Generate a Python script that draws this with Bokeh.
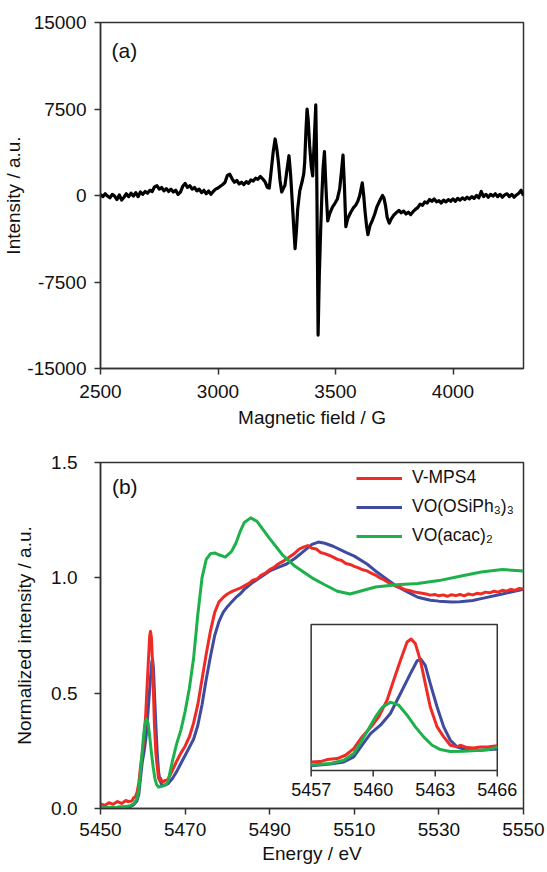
from bokeh.plotting import figure
from bokeh.layouts import column
from bokeh.models import Range1d, FixedTicker, Label, Legend, LegendItem
from bokeh.core.properties import value
from bokeh.embed import file_html
from bokeh.resources import INLINE

# ---------------- data: (a) EPR spectrum ----------------
epr_field = [2500, 2510, 2520, 2530, 2540, 2550, 2560, 2570, 2580, 2590, 2600, 2610, 2620, 2630, 2640,
             2650, 2660, 2670, 2680, 2690, 2700, 2710, 2720, 2730, 2740, 2750, 2760, 2770, 2780, 2790,
             2800, 2810, 2820, 2830, 2840, 2850, 2860, 2870, 2880, 2890, 2900, 2910, 2920, 2930, 2940,
             2950, 2960, 2970, 2980, 2990, 3000, 3010, 3020, 3030, 3040, 3050, 3060, 3070, 3080, 3090,
             3100, 3110, 3120, 3130, 3140, 3150, 3160, 3170, 3180, 3190, 3200,
             3210, 3218, 3224, 3235, 3243, 3250, 3257, 3264, 3271, 3278, 3285, 3294, 3302, 3309, 3317,
             3323, 3328, 3334, 3339, 3348, 3359, 3365, 3369, 3374, 3379, 3384, 3390, 3397, 3403, 3409,
             3416, 3419, 3421, 3426, 3431, 3437, 3442, 3447, 3453, 3457, 3461, 3467, 3475, 3487, 3497,
             3508, 3518, 3525, 3532, 3538, 3544, 3552, 3565, 3575, 3586, 3595, 3603, 3609, 3614, 3620,
             3626, 3632, 3638, 3647, 3657, 3667, 3676, 3685, 3692, 3700, 3706, 3713, 3720, 3729, 3738,
             3748, 3758,
             3770, 3780, 3790, 3800, 3810, 3820, 3830, 3840, 3850, 3860, 3870, 3880, 3890, 3900, 3910,
             3920, 3930, 3940, 3950, 3960, 3970, 3980, 3990, 4000, 4010, 4020, 4030, 4040, 4050, 4060,
             4070, 4080, 4090, 4100, 4110, 4120, 4130, 4140, 4150, 4160, 4170, 4180, 4190, 4200, 4210,
             4220, 4230, 4240, 4250, 4260, 4270, 4280, 4290, 4300]
epr_intensity = [100, -100, 150, -50, -200, 100, -50, -350, 50, -400, -150, 150, -100, 200, -50,
                 250, -100, 300, 100, 350, 200, 450, 350, 750, 850, 550, 700, 400, 600, 350,
                 550, 300, 450, 100, 300, 800, 1050, 700, 850, 550, 700, 400, 550, 250, 450,
                 150, 400, 100, 350, 550, 650, 800, 950, 1150, 1750, 1850, 1450, 1150, 1300, 1000,
                 1150, 950, 1200, 1050, 1350, 1250, 1500, 1400, 1650, 1450, 1200,
                 700, 650, 1700, 3800, 4900, 4100, 2900, 1300, 300, 600, 900, 2300, 3450, 1800, -900,
                 -3000, -4600, -3000, -1200, 400, 1300, 1900, 2900, 5500, 7500, 6500, 4300, 2500, 1700, 4500,
                 7850, 4000, 0, -12100, -7000, -2900, 0, 2300, 3800, 1800, 0, -2200, -1600, -1000, -700,
                 -300, 600, 2000, 3500, 800, -2700, -2000, -1450, -1100, -850, -500, 0, 600, 1100, 0,
                 -1450, -2600, -3400, -2600, -2150, -1600, -1000, -600, -300, 0, -200, -900, -1900, -2400, -2000,
                 -1700, -1500,
                 -1300, -1500, -1350, -1600, -1450, -1650, -1400, -1200, -1050, -750, -850, -550, -650, -350, -500,
                 -300, -550, -450, -650, -400, -550, -350, -500, -300, -500, -250, -400, -200, -350, -150,
                 -300, -100, -250, 0, -200, 350, -100, 100, -150, 100, -50, 150, -100, 100, -150,
                 50, 150, -100, 100, -150, 50, 200, 450, 0]
epr_xticks = [2500, 3000, 3500, 4000]
epr_yticks = [-15000, -7500, 0, 7500, 15000]
epr_ytick_labels = ["-15000", "-7500", "0", "7500", "15000"]

# ---------------- data: (b) V K-edge XANES ----------------
mps4_energy = [5450, 5451, 5452, 5453, 5454, 5455, 5456, 5456.5, 5457.0, 5457.45, 5457.77, 5458.26,
               5458.66, 5459.06, 5459.46, 5459.87, 5460.27, 5460.67, 5460.99, 5461.32, 5461.64, 5461.83,
               5462.04, 5462.28, 5462.52, 5462.76, 5463.09, 5463.41, 5463.73, 5464.05, 5464.21, 5464.54,
               5464.86, 5465.18, 5465.6, 5466, 5467, 5468, 5469, 5470, 5471, 5472, 5473, 5474, 5475,
               5476, 5477, 5478, 5479, 5480, 5481, 5482, 5483, 5484, 5485, 5486, 5487, 5488, 5489, 5490,
               5491, 5492, 5493, 5494, 5495, 5496, 5497, 5498, 5499, 5500, 5501, 5502, 5503, 5504, 5505,
               5506, 5507, 5508, 5509, 5510, 5511, 5512, 5513, 5514, 5515, 5516, 5517, 5518, 5519, 5520,
               5521, 5522, 5523, 5524, 5525, 5526, 5527, 5528, 5529, 5530, 5531, 5532, 5533, 5534, 5535,
               5536, 5537, 5538, 5539, 5540, 5541, 5542, 5543, 5544, 5545, 5546, 5547, 5548, 5549, 5550]
mps4_mu = [0.020, 0.013, 0.025, 0.018, 0.030, 0.022, 0.035, 0.030, 0.031, 0.033, 0.045, 0.051,
           0.071, 0.111, 0.181, 0.237, 0.301, 0.401, 0.520, 0.640, 0.750, 0.768,
           0.740, 0.640, 0.500, 0.360, 0.241, 0.181, 0.131, 0.121, 0.131, 0.117,
           0.115, 0.121, 0.122, 0.128, 0.165, 0.205, 0.240, 0.270, 0.310, 0.370, 0.450, 0.560, 0.670,
           0.770, 0.850, 0.895, 0.915, 0.930, 0.940, 0.948, 0.955, 0.965, 0.975, 0.990, 0.995, 1.012, 1.020, 1.036,
           1.045, 1.060, 1.070, 1.082, 1.095, 1.108, 1.125, 1.133, 1.140, 1.128, 1.125, 1.110, 1.105, 1.098, 1.090,
           1.080, 1.075, 1.062, 1.058, 1.050, 1.043, 1.035, 1.030, 1.020, 1.012, 1.000, 0.992, 0.980, 0.972, 0.962,
           0.958, 0.948, 0.945, 0.940, 0.936, 0.933, 0.930, 0.925, 0.928, 0.922, 0.926, 0.920, 0.927, 0.923, 0.928,
           0.922, 0.930, 0.926, 0.933, 0.930, 0.938, 0.935, 0.942, 0.938, 0.946, 0.942, 0.950, 0.946, 0.954, 0.952]

siph_energy = [5450, 5452, 5454, 5455, 5456, 5457.0, 5457.93, 5458.58, 5459.06, 5459.46, 5459.87, 5460.35,
               5460.83, 5461.32, 5461.80, 5462.12, 5462.31, 5462.52, 5462.76, 5463.09, 5463.41, 5463.73,
               5464.05, 5464.54, 5465.18, 5466, 5467, 5468, 5469, 5470, 5471, 5472, 5473, 5474, 5475, 5476,
               5477, 5478, 5479, 5480, 5481, 5482, 5483, 5484, 5486, 5488, 5490, 5492, 5494, 5496, 5498,
               5500, 5501.5, 5503, 5505, 5508, 5510, 5513, 5515, 5518, 5520, 5523, 5525, 5528, 5530, 5533,
               5535, 5538, 5540, 5545, 5550]
siph_mu = [0.003, 0.004, 0.005, 0.006, 0.007, 0.008, 0.018, 0.031, 0.061, 0.131, 0.201, 0.251,
           0.321, 0.441, 0.560, 0.636, 0.646, 0.610, 0.500, 0.360, 0.241, 0.161,
           0.121, 0.101, 0.101, 0.108, 0.130, 0.160, 0.195, 0.230, 0.265, 0.300, 0.360, 0.450, 0.560, 0.660,
           0.750, 0.810, 0.850, 0.875, 0.895, 0.915, 0.930, 0.950, 0.980, 1.005, 1.030, 1.045, 1.060, 1.085, 1.115,
           1.145, 1.155, 1.150, 1.137, 1.110, 1.094, 1.060, 1.030, 0.990, 0.964, 0.935, 0.916, 0.903, 0.899, 0.895,
           0.896, 0.902, 0.910, 0.930, 0.950]

acac_energy = [5450, 5452, 5454, 5455, 5456, 5457.0, 5457.93, 5458.58, 5459.06, 5459.46, 5459.79, 5460.11,
               5460.43, 5460.83, 5461.24, 5461.64, 5462.04, 5462.44, 5462.85, 5463.25, 5463.73, 5464.38,
               5465.18, 5465.6, 5466, 5467, 5468, 5469, 5470, 5471, 5472, 5473, 5474, 5475, 5476, 5477,
               5478, 5479.5, 5481, 5482, 5483, 5484, 5485.5, 5487, 5488, 5490, 5493, 5496, 5500, 5503,
               5506, 5509, 5512, 5515, 5520, 5525, 5530, 5535, 5540, 5545, 5550]
acac_mu = [0.003, 0.004, 0.005, 0.006, 0.009, 0.012, 0.022, 0.041, 0.081, 0.161, 0.231, 0.301,
           0.357, 0.389, 0.371, 0.311, 0.241, 0.181, 0.131, 0.105, 0.093, 0.095,
           0.101, 0.106, 0.120, 0.205, 0.280, 0.340, 0.420, 0.520, 0.650, 0.840, 1.000, 1.080, 1.105, 1.108,
           1.100, 1.090, 1.115, 1.150, 1.200, 1.240, 1.260, 1.245, 1.220, 1.170, 1.100, 1.050, 1.000, 0.970,
           0.942, 0.930, 0.945, 0.960, 0.970, 0.975, 0.988, 1.007, 1.025, 1.036, 1.030]

xanes_xticks = [5450, 5470, 5490, 5510, 5530, 5550]
xanes_yticks = [0.0, 0.5, 1.0, 1.5]
xanes_ytick_labels = ["0.0", "0.5", "1.0", "1.5"]
inset_xticks = [5457, 5460, 5463, 5466]
inset_xtick_labels = ["5457", "5460", "5463", "5466"]

series_names = ["V-MPS4", "VO(OSiPh\u2083)\u2083", "VO(acac)\u2082"]
series_colors = ["#EE2B25", "#3F4BA0", "#1EB14B"]

FONT = "Liberation Sans"
AX = "#333333"


def style(p):
    p.toolbar_location = None
    p.xgrid.visible = False
    p.ygrid.visible = False
    p.outline_line_color = AX
    p.outline_line_width = 1.5
    p.background_fill_color = "white"
    p.border_fill_color = "white"
    for ax in (p.xaxis[0], p.yaxis[0]):
        ax.axis_line_color = AX
        ax.axis_line_width = 1.5
        ax.major_tick_line_color = AX
        ax.major_tick_line_width = 1.5
        ax.major_tick_out = 6
        ax.major_tick_in = 0
        ax.minor_tick_line_color = None
        ax.major_label_text_font = FONT
        ax.major_label_text_font_size = "19px"
        ax.major_label_text_color = "#111111"
        ax.axis_label_text_font = FONT
        ax.axis_label_text_font_size = "19px"
        ax.axis_label_text_font_style = "normal"
        ax.axis_label_text_color = "#111111"


# ---------------- panel (a) ----------------
pa = figure(width=545, height=446, output_backend="svg", toolbar_location=None,
            x_range=Range1d(2500, 4300), y_range=Range1d(-15000, 15000),
            min_border_left=100, min_border_right=22, min_border_top=22, min_border_bottom=78,
            x_axis_label="Magnetic field / G", y_axis_label="Intensity / a.u.")
style(pa)
pa.xaxis.ticker = FixedTicker(ticks=epr_xticks)
pa.yaxis.ticker = FixedTicker(ticks=epr_yticks)
pa.yaxis.major_label_overrides = {t: s for t, s in zip(epr_yticks, epr_ytick_labels)}
pa.xaxis.major_label_standoff = 10
pa.xaxis.axis_label_standoff = 6
pa.yaxis.major_label_standoff = 8
pa.yaxis.axis_label_standoff = 0
pa.line(epr_field, epr_intensity, line_color="black", line_width=3.2, line_join="round")
pa.add_layout(Label(x=2547, y=12600, text="(a)", text_baseline="middle", text_align="left",
                    text_font=FONT, text_font_size="21px", text_color="#111111"))

# ---------------- panel (b) ----------------
pb = figure(width=545, height=424, output_backend="svg", toolbar_location=None,
            x_range=Range1d(5450, 5550), y_range=Range1d(0, 1.5),
            min_border_left=100, min_border_right=21, min_border_top=16, min_border_bottom=62,
            x_axis_label="Energy / eV", y_axis_label="Normalized intensity / a.u.")
style(pb)
pb.xaxis.ticker = FixedTicker(ticks=xanes_xticks)
pb.yaxis.ticker = FixedTicker(ticks=xanes_yticks)
pb.yaxis.major_label_overrides = {t: s for t, s in zip(xanes_yticks, xanes_ytick_labels)}
pb.xaxis.major_label_standoff = 8
pb.xaxis.axis_label_standoff = 4
pb.yaxis.major_label_standoff = 17
pb.yaxis.axis_label_standoff = 13

data = [(mps4_energy, mps4_mu), (siph_energy, siph_mu), (acac_energy, acac_mu)]
draw_order = [1, 0, 2]
renderers = {}
for i in draw_order:
    e, m = data[i]
    renderers[i] = pb.line(e, m, line_color=series_colors[i], line_width=3, line_join="round")

legend = Legend(items=[LegendItem(label=series_names[i], renderers=[renderers[i]]) for i in range(3)],
                location=(256, 262), padding=0, margin=0, spacing=8,
                glyph_width=46, glyph_height=20, label_height=20, label_standoff=10,
                label_text_font=FONT, label_text_font_size="17.5px", label_text_color="#111111",
                border_line_color=None, background_fill_alpha=0)
pb.add_layout(legend)
pb.add_layout(Label(x=5452.7, y=1.396, text="(b)", text_baseline="middle", text_align="left",
                    text_font=FONT, text_font_size="21px", text_color="#111111"))

# inset (sub-coordinate system of panel b)
inset_xr = (5457, 5466)
inset_yr = (-0.02, 0.855)
sub = pb.subplot(x_source=Range1d(*inset_xr), y_source=Range1d(*inset_yr),
                 x_target=Range1d(5499.8, 5543.8), y_target=Range1d(0.165, 0.798))
sub.quad(left=[inset_xr[0]], right=[inset_xr[1]], bottom=[inset_yr[0]], top=[inset_yr[1]],
         fill_color="white", line_color=AX, line_width=1.5)
for i in draw_order:
    e, m = data[i]
    pts = [(x, y) for x, y in zip(e, m) if inset_xr[0] <= x <= inset_xr[1]]
    sub.line([q[0] for q in pts], [q[1] for q in pts], line_color=series_colors[i], line_width=3,
             line_join="round")
sub.segment(x0=inset_xticks, y0=[inset_yr[0]] * 4, x1=inset_xticks, y1=[inset_yr[0] - 0.036] * 4,
            line_color=AX, line_width=1.5)
sub.text(x=inset_xticks, y=[inset_yr[0] - 0.075] * 4, text=inset_xtick_labels,
         text_align="center", text_baseline="top", text_font=value(FONT),
         text_font_size=value("18px"), text_color="#111111")

layout = column(pa, pb, spacing=0)
open("out.html", "w").write(file_html(layout, INLINE))
